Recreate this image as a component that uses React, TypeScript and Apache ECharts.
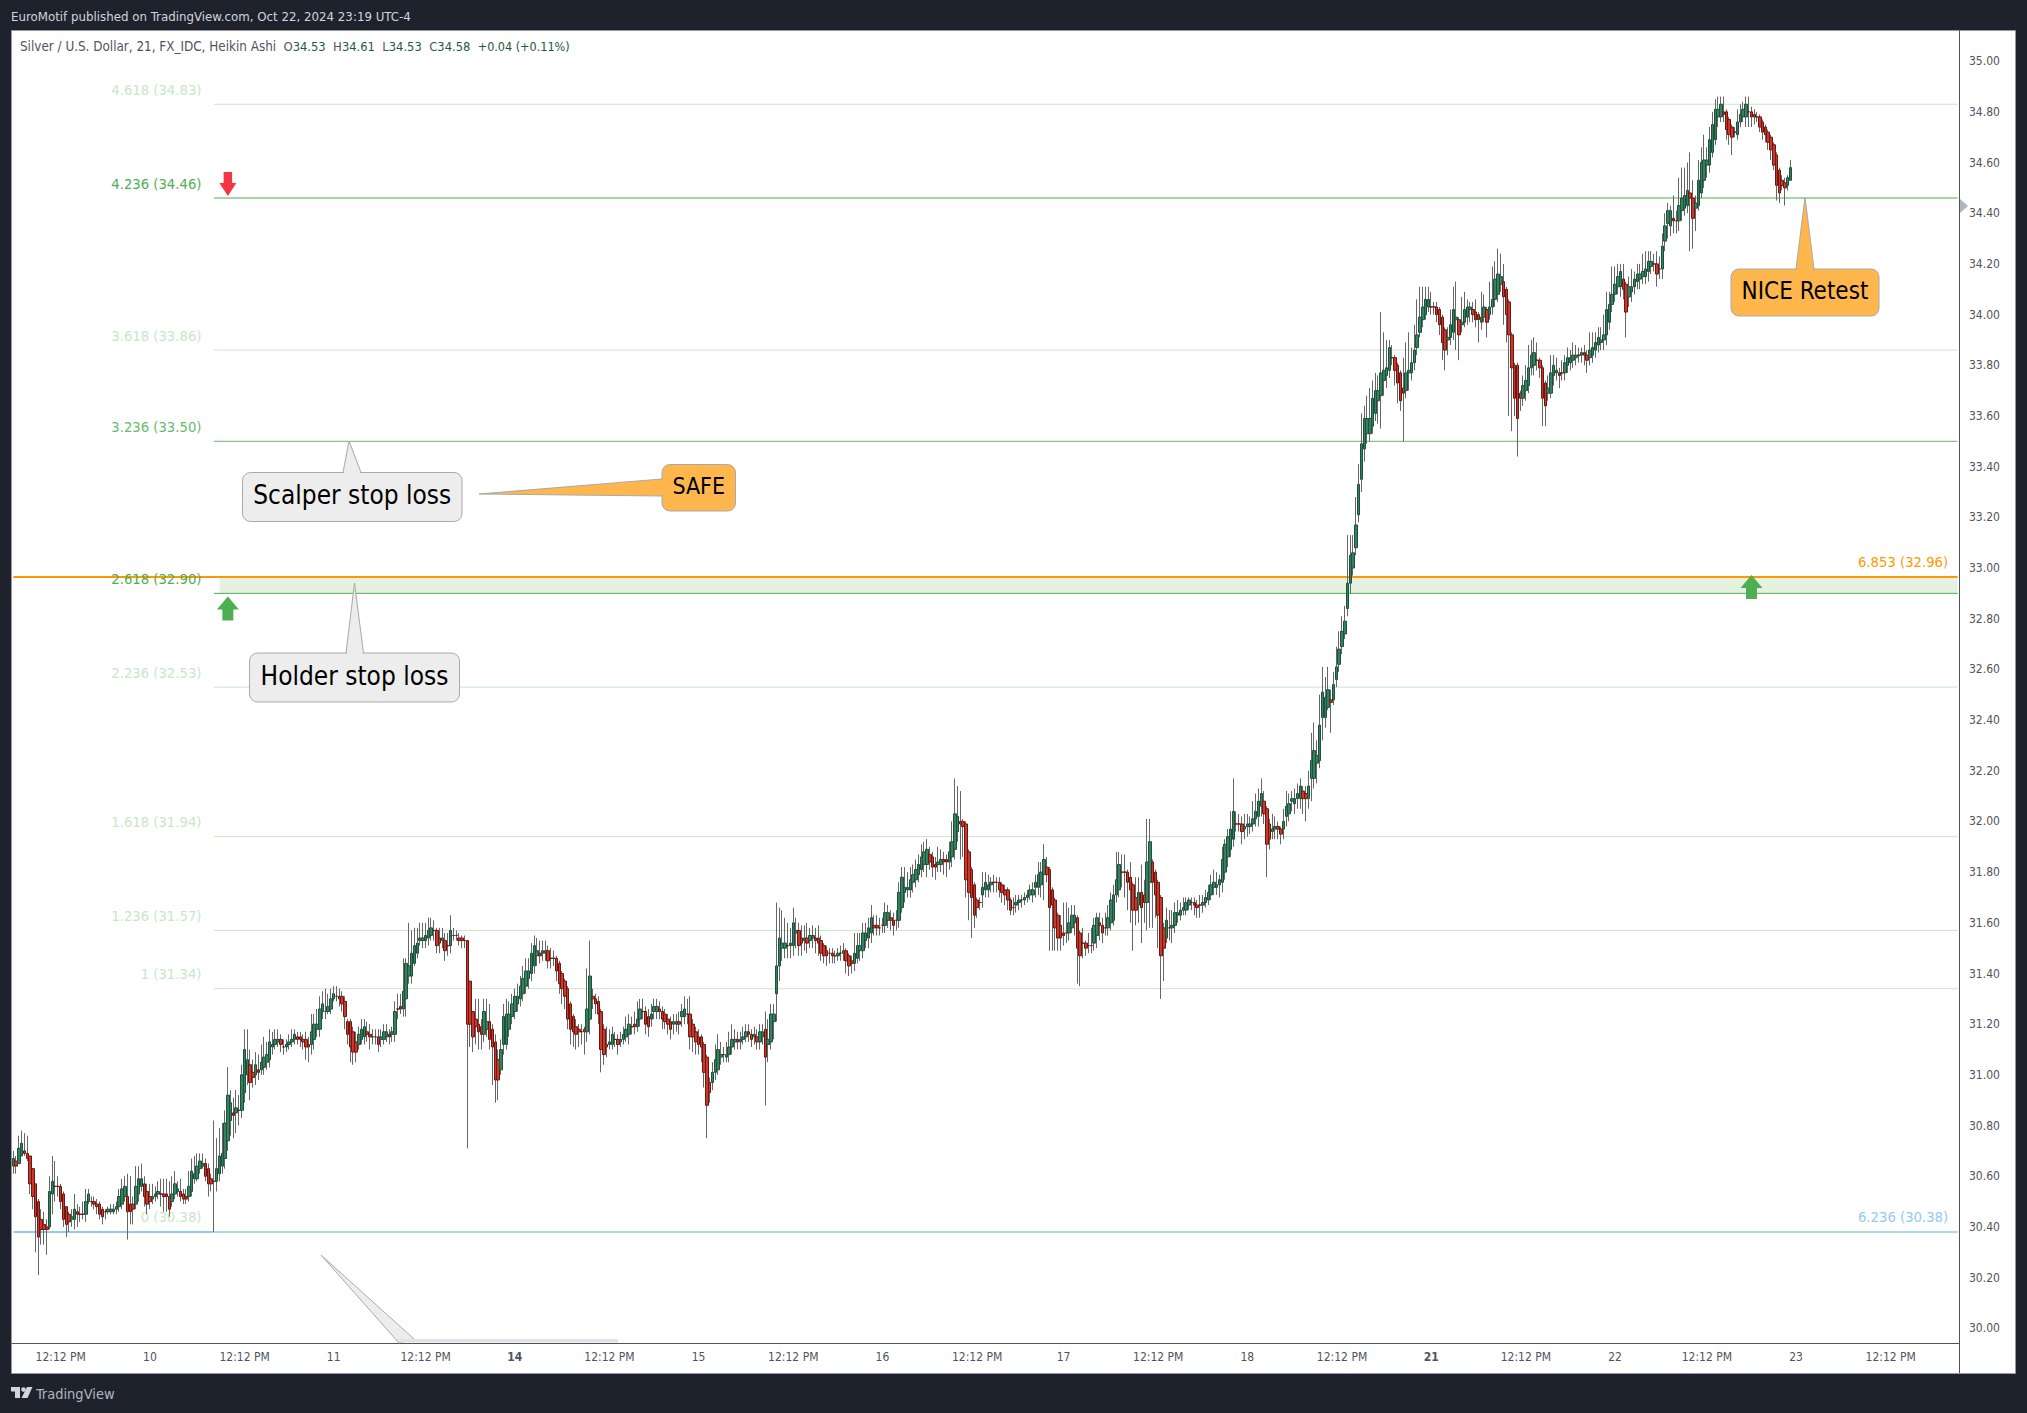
import { useEffect, useRef } from "react";
import * as echarts from "echarts";

// rows are [open, close, low, high] in cents, one list per session
const oct09 = [
  [3064,3067,3061,3070],[3066,3064,3061,3068],[3065,3071,3065,3076],[3068,3073,3068,3078],[3070,3069,3068,3077],
  [3069,3067,3066,3076],[3068,3057,3053,3068],[3063,3052,3047,3063],[3057,3044,3030,3057],[3050,3036,3021,3051],
  [3043,3039,3033,3047],[3041,3039,3033,3046],[3040,3039,3029,3043],[3040,3054,3039,3060],[3053,3058,3045,3068],
  [3056,3056,3050,3066],[3056,3056,3052,3060],[3056,3050,3047,3057],[3053,3043,3040,3054],[3048,3041,3036,3048],
  [3045,3042,3038,3046],[3043,3044,3040,3047],[3043,3047,3039,3053],[3046,3045,3040,3049],[3045,3045,3042,3048],
  [3045,3045,3043,3050],[3045,3050,3042,3055],[3050,3053,3049,3055],[3050,3050,3048,3052],[3050,3049,3047,3052],
  [3049,3048,3045,3051],[3049,3045,3043,3050],[3047,3044,3041,3048],[3046,3046,3043,3047],[3046,3047,3045,3048],
  [3046,3047,3045,3049],[3046,3047,3045,3049],[3047,3048,3045,3050],[3048,3052,3046,3055],[3049,3055,3047,3059],
  [3052,3056,3050,3060],[3052,3046,3035,3061],[3049,3046,3041,3060],[3049,3047,3041,3052],[3049,3056,3047,3064],
  [3053,3059,3050,3064],[3056,3059,3054,3065],[3057,3052,3048,3060],[3054,3049,3045,3057],[3052,3050,3047,3057],
];
const oct10 = [
  [3051,3052,3049,3057],[3052,3053,3050,3056],[3053,3054,3051,3058],[3053,3053,3048,3059],[3053,3052,3046,3059],
  [3053,3052,3046,3059],[3052,3047,3044,3058],[3050,3053,3048,3060],[3053,3057,3051,3062],[3054,3055,3052,3058],
  [3054,3052,3050,3059],[3053,3051,3049,3055],[3052,3051,3049,3055],[3052,3056,3050,3062],[3054,3062,3052,3067],
  [3059,3061,3057,3068],[3059,3064,3058,3069],[3063,3066,3061,3069],[3064,3065,3063,3069],[3065,3060,3058,3067],
  [3063,3057,3052,3065],[3059,3057,3054,3061],[3058,3058,3038,3082],[3058,3063,3054,3075],[3061,3068,3058,3079],
  [3064,3069,3061,3081],[3067,3081,3063,3086],[3074,3092,3070,3103],[3082,3089,3076,3094],[3085,3084,3075,3091],
  [3085,3087,3077,3094],[3086,3086,3080,3092],[3086,3100,3083,3104],[3093,3110,3089,3118],[3100,3106,3096,3118],
  [3104,3097,3090,3110],[3101,3099,3095,3106],[3100,3104,3096,3109],[3102,3101,3098,3108],[3102,3105,3100,3112],
  [3103,3107,3100,3115],[3105,3108,3102,3113],[3106,3113,3103,3118],[3111,3112,3108,3117],[3112,3114,3110,3118],
  [3113,3114,3111,3118],[3114,3112,3109,3116],[3111,3111,3108,3114],[3111,3112,3109,3114],[3112,3113,3110,3116],
  [3113,3114,3111,3118],[3114,3116,3112,3118],[3115,3114,3112,3117],[3115,3114,3111,3117],[3114,3113,3110,3116],
  [3114,3111,3106,3117],[3112,3111,3105,3115],[3112,3117,3108,3124],[3114,3120,3110,3124],[3118,3120,3115,3126],
  [3118,3126,3115,3131],[3125,3128,3122,3133],[3125,3125,3122,3134],[3125,3127,3124,3132],[3126,3130,3124,3134],
  [3130,3132,3129,3135],
];
const oct11 = [
  [3131,3131,3129,3135],[3131,3130,3127,3134],[3131,3128,3125,3133],[3129,3123,3118,3131],[3121,3116,3112,3122],
  [3121,3111,3105,3122],[3117,3109,3104,3119],[3113,3109,3105,3117],[3112,3116,3110,3119],[3114,3118,3112,3122],
  [3115,3119,3112,3122],[3117,3116,3113,3121],[3116,3115,3110,3120],[3115,3115,3112,3118],[3115,3115,3112,3118],
  [3115,3112,3109,3118],[3114,3115,3111,3118],[3114,3117,3112,3120],[3115,3117,3113,3120],[3116,3115,3112,3118],
  [3116,3117,3113,3119],[3116,3125,3113,3129],[3126,3126,3122,3132],[3127,3126,3124,3132],[3126,3133,3123,3146],
  [3130,3144,3123,3146],[3139,3143,3136,3160],[3139,3148,3136,3157],[3144,3151,3143,3158],[3148,3152,3146,3158],
  [3153,3154,3151,3160],[3153,3154,3150,3160],[3153,3155,3150,3160],[3154,3157,3151,3162],[3155,3158,3153,3162],
  [3157,3157,3153,3161],[3157,3151,3148,3158],[3154,3152,3148,3158],[3153,3154,3150,3158],[3153,3149,3145,3156],
  [3151,3151,3147,3156],[3151,3157,3148,3163],[3155,3155,3153,3158],[3155,3155,3153,3157],[3154,3153,3151,3156],
  [3154,3153,3150,3155],[3153,3153,3150,3155],[3153,3120,3071,3153],[3137,3120,3111,3137],[3125,3115,3109,3125],
  [3122,3119,3112,3130],[3120,3117,3110,3130],[3119,3116,3110,3122],[3116,3125,3113,3130],[3118,3121,3115,3130],
  [3121,3114,3110,3128],[3118,3111,3096,3120],[3113,3098,3089,3116],[3106,3098,3090,3110],[3102,3110,3100,3114],
  [3112,3123,3108,3128],[3112,3124,3110,3130],[3118,3124,3115,3129],[3123,3128,3120,3132],[3125,3131,3122,3134],
];
const oct14 = [
  [3128,3131,3125,3136],[3130,3135,3127,3139],[3132,3138,3129,3143],[3135,3141,3132,3146],[3138,3141,3134,3146],
  [3140,3148,3137,3152],[3143,3151,3140,3155],[3147,3149,3143,3154],[3148,3147,3144,3153],[3148,3149,3145,3153],
  [3148,3149,3145,3153],[3149,3145,3142,3151],[3146,3146,3142,3150],[3146,3146,3143,3149],[3146,3141,3137,3147],
  [3144,3136,3132,3145],[3140,3134,3128,3141],[3137,3131,3126,3138],[3134,3122,3118,3135],[3128,3118,3112,3129],
  [3123,3117,3111,3124],[3119,3116,3110,3122],[3118,3117,3111,3120],[3117,3117,3112,3120],[3118,3117,3108,3119],
  [3117,3126,3113,3142],[3122,3139,3116,3153],[3131,3130,3126,3134],[3130,3128,3124,3132],[3129,3124,3120,3131],
  [3125,3110,3101,3126],[3118,3108,3104,3120],[3112,3111,3107,3119],[3112,3113,3110,3118],[3112,3116,3110,3119],
  [3114,3114,3111,3117],[3114,3112,3108,3116],[3113,3114,3111,3117],[3114,3116,3112,3119],[3115,3118,3113,3123],
  [3116,3120,3112,3124],[3119,3119,3116,3123],[3120,3119,3116,3125],[3119,3122,3117,3129],[3122,3126,3119,3130],
  [3125,3125,3122,3130],[3125,3120,3116,3127],[3123,3119,3115,3126],[3122,3124,3119,3128],[3125,3127,3122,3130],
  [3125,3127,3122,3130],[3126,3125,3122,3129],[3125,3122,3118,3127],[3124,3121,3118,3126],[3122,3120,3116,3124],
  [3121,3118,3114,3123],[3120,3121,3116,3124],[3120,3121,3117,3124],[3121,3120,3116,3125],[3123,3125,3119,3128],
  [3123,3126,3120,3131],[3124,3124,3120,3130],[3124,3115,3110,3131],[3120,3115,3109,3122],[3117,3113,3108,3119],
  [3115,3112,3108,3118],
];
const oct15 = [
  [3115,3111,3105,3116],[3112,3101,3095,3113],[3107,3088,3075,3108],[3097,3093,3089,3099],[3097,3101,3094,3105],
  [3101,3106,3098,3112],[3102,3110,3100,3116],[3107,3108,3104,3113],[3108,3108,3105,3111],[3107,3108,3105,3113],
  [3108,3111,3105,3117],[3111,3114,3108,3120],[3113,3114,3110,3118],[3114,3113,3110,3117],[3113,3114,3110,3117],
  [3114,3115,3112,3119],[3115,3117,3113,3120],[3117,3116,3113,3120],[3116,3114,3111,3118],[3115,3116,3112,3119],
  [3115,3113,3110,3118],[3113,3117,3110,3120],[3115,3117,3112,3120],[3118,3107,3088,3125],[3112,3114,3105,3122],
  [3113,3124,3110,3128],[3121,3124,3114,3128],[3132,3143,3121,3168],[3143,3154,3137,3166],[3150,3152,3145,3165],
  [3150,3152,3146,3162],[3151,3151,3146,3160],[3151,3152,3146,3158],[3151,3160,3147,3166],[3156,3157,3150,3162],
  [3157,3151,3147,3160],[3154,3152,3147,3159],[3153,3154,3149,3159],[3154,3152,3148,3160],[3153,3155,3150,3158],
  [3154,3155,3150,3159],[3154,3153,3148,3158],[3154,3152,3147,3159],[3153,3148,3145,3155],[3151,3147,3144,3152],
  [3149,3147,3143,3151],[3148,3148,3144,3150],[3148,3147,3144,3150],[3147,3147,3144,3149],[3147,3148,3145,3150],
  [3148,3148,3145,3151],[3148,3149,3145,3152],[3149,3145,3140,3150],[3147,3143,3139,3148],[3145,3144,3140,3147],
  [3144,3148,3141,3156],[3146,3151,3144,3156],[3149,3151,3145,3156],[3149,3156,3146,3160],[3153,3156,3150,3160],
  [3154,3158,3150,3162],[3156,3162,3152,3167],[3159,3158,3155,3163],[3159,3158,3155,3163],[3158,3158,3155,3162],
  [3159,3159,3156,3162],
];
const oct16 = [
  [3159,3164,3156,3168],[3161,3164,3158,3167],[3162,3161,3157,3165],[3161,3159,3155,3164],[3161,3161,3157,3165],
  [3161,3172,3158,3176],[3166,3178,3164,3182],[3172,3174,3168,3182],[3173,3174,3170,3180],[3173,3177,3170,3182],
  [3176,3179,3172,3183],[3177,3181,3174,3185],[3179,3183,3176,3187],[3181,3186,3178,3191],[3183,3188,3180,3192],
  [3183,3189,3178,3193],[3187,3184,3181,3190],[3186,3182,3178,3188],[3183,3182,3177,3186],[3183,3184,3180,3190],
  [3183,3185,3180,3189],[3185,3184,3179,3188],[3185,3184,3178,3187],[3184,3188,3181,3192],[3186,3192,3182,3200],
  [3189,3203,3185,3217],[3196,3202,3192,3214],[3200,3199,3185,3212],[3200,3198,3186,3201],[3199,3177,3170,3200],
  [3188,3172,3161,3189],[3181,3170,3154,3182],[3175,3163,3158,3176],[3169,3166,3162,3170],[3168,3168,3165,3170],
  [3171,3174,3166,3180],[3173,3176,3170,3180],[3173,3175,3170,3179],[3175,3176,3172,3178],[3176,3176,3172,3179],
  [3176,3176,3172,3178],[3176,3173,3170,3178],[3175,3172,3168,3176],[3173,3171,3167,3175],[3173,3169,3165,3174],
  [3169,3165,3163,3170],[3166,3166,3163,3170],[3167,3168,3164,3171],[3168,3169,3165,3171],[3169,3169,3166,3171],
  [3169,3170,3167,3172],[3170,3171,3168,3173],[3171,3173,3169,3175],[3171,3173,3168,3176],[3174,3176,3170,3179],
  [3174,3179,3171,3184],[3175,3180,3170,3184],[3179,3185,3169,3191],[3182,3179,3176,3186],[3181,3166,3149,3182],
  [3173,3167,3149,3174],[3169,3158,3149,3170],[3163,3154,3149,3164],[3159,3154,3149,3163],[3156,3155,3151,3168],
];
const oct17 = [
  [3156,3156,3152,3168],[3156,3160,3153,3166],[3158,3163,3156,3167],[3160,3163,3155,3167],[3162,3150,3136,3163],
  [3156,3147,3135,3157],[3152,3152,3146,3158],[3152,3150,3147,3153],[3151,3151,3148,3156],[3151,3151,3148,3158],
  [3152,3159,3149,3162],[3155,3162,3150,3164],[3160,3159,3153,3164],[3159,3156,3152,3162],[3158,3158,3155,3164],
  [3158,3162,3155,3167],[3160,3169,3157,3172],[3161,3171,3159,3175],[3171,3177,3168,3188],[3173,3183,3170,3188],
  [3180,3180,3174,3187],[3180,3180,3170,3187],[3180,3176,3165,3181],[3178,3173,3160,3184],[3175,3165,3149,3176],
  [3170,3165,3159,3178],[3167,3172,3160,3178],[3172,3166,3152,3183],[3171,3168,3160,3177],[3168,3184,3157,3201],
  [3176,3192,3158,3201],[3184,3176,3158,3185],[3180,3171,3162,3181],[3176,3163,3150,3177],[3170,3147,3130,3171],
  [3158,3150,3137,3160],[3154,3161,3152,3166],[3158,3158,3153,3165],[3158,3159,3152,3165],[3159,3164,3156,3168],
  [3163,3164,3160,3169],[3163,3165,3161,3168],[3165,3166,3163,3170],[3165,3168,3163,3170],[3167,3169,3165,3170],
  [3168,3168,3165,3170],
];
const oct18 = [
  [3168,3167,3163,3170],[3167,3166,3162,3169],[3167,3167,3162,3171],[3167,3168,3164,3171],[3168,3170,3166,3173],
  [3169,3172,3167,3175],[3171,3175,3169,3179],[3174,3176,3171,3181],[3174,3175,3171,3180],[3175,3177,3170,3179],
  [3176,3185,3172,3190],[3180,3191,3177,3193],[3186,3194,3182,3197],[3189,3197,3186,3204],[3193,3204,3190,3217],
  [3199,3199,3196,3204],[3199,3199,3196,3203],[3199,3196,3191,3202],[3197,3198,3193,3203],[3198,3199,3194,3203],
  [3198,3199,3195,3202],[3199,3201,3196,3208],[3201,3204,3198,3211],[3202,3208,3198,3213],[3206,3211,3202,3217],
  [3208,3203,3199,3212],[3205,3191,3178,3206],[3199,3193,3189,3201],[3196,3197,3193,3203],[3197,3198,3193,3202],
  [3198,3197,3193,3200],[3197,3195,3191,3198],[3197,3200,3193,3205],[3202,3206,3198,3212],[3203,3207,3200,3211],
  [3208,3209,3204,3212],[3207,3209,3203,3213],[3209,3211,3205,3215],[3209,3214,3205,3217],[3212,3209,3203,3214],
  [3211,3209,3200,3214],[3209,3214,3205,3220],[3217,3224,3208,3235],[3217,3228,3213,3239],[3223,3226,3215,3232],
  [3224,3238,3221,3250],[3241,3251,3232,3261],[3241,3249,3237,3257],[3245,3252,3244,3261],[3248,3247,3235,3252],
  [3248,3254,3246,3259],[3256,3261,3253,3269],[3262,3268,3259,3275],[3269,3275,3266,3281],[3274,3279,3272,3285],
  [3284,3294,3281,3313],[3294,3305,3290,3313],[3300,3306,3297,3313],[3308,3317,3305,3328],[3321,3333,3318,3341],
  [3335,3349,3330,3361],[3347,3359,3342,3364],[3353,3359,3349,3368],[3353,3359,3350,3371],[3356,3367,3353,3374],
  [3361,3370,3358,3377],
];
const oct21 = [
  [3366,3370,3357,3376],[3368,3377,3355,3401],[3374,3378,3368,3393],[3376,3379,3371,3390],[3378,3387,3375,3390],
  [3383,3383,3380,3388],[3383,3378,3372,3384],[3380,3373,3365,3381],[3377,3366,3362,3378],[3371,3369,3350,3383],
  [3370,3377,3367,3389],[3377,3378,3370,3393],[3377,3381,3374,3387],[3381,3386,3378,3396],[3387,3392,3384,3406],
  [3393,3399,3391,3411],[3398,3403,3395,3411],[3400,3406,3398,3411],[3403,3406,3401,3411],[3403,3403,3400,3409],
  [3403,3403,3400,3405],[3403,3400,3397,3405],[3402,3396,3392,3403],[3399,3389,3382,3400],[3394,3386,3378,3395],
  [3390,3391,3384,3395],[3391,3396,3388,3402],[3393,3402,3390,3411],[3398,3399,3386,3413],[3398,3392,3382,3399],
  [3396,3397,3393,3407],[3397,3402,3395,3409],[3399,3403,3396,3406],[3402,3403,3397,3405],
  [3402,3400,3397,3405],[3401,3398,3395,3406],[3400,3398,3389,3401],[3397,3399,3394,3409],[3399,3403,3397,3408],
  [3402,3397,3391,3403],[3400,3403,3398,3413],[3403,3406,3400,3419],[3406,3414,3403,3421],
  [3408,3416,3405,3426],[3412,3415,3409,3424],[3413,3407,3396,3420],[3410,3400,3389,3411],[3405,3392,3360,3406],
  [3392,3379,3354,3393],[3380,3367,3360,3381],[3380,3359,3344,3381],[3369,3367,3362,3370],[3367,3372,3364,3376],
  [3370,3374,3366,3380],[3372,3379,3369,3388],[3379,3384,3376,3390],[3380,3385,3376,3391],[3382,3382,3378,3389],
  [3382,3379,3375,3383],[3379,3367,3356,3380],[3373,3364,3356,3374],[3369,3371,3366,3376],[3369,3377,3367,3384],
  [3376,3380,3372,3384],
];
const oct22 = [
  [3377,3378,3374,3383],[3377,3376,3371,3379],[3377,3377,3374,3382],[3377,3381,3374,3384],[3380,3383,3377,3387],
  [3381,3383,3378,3386],[3382,3384,3379,3389],[3383,3384,3380,3388],[3384,3384,3381,3387],[3384,3385,3381,3387],
  [3385,3384,3380,3388],[3384,3382,3377,3386],[3383,3386,3380,3393],[3384,3387,3381,3393],[3386,3389,3383,3393],
  [3388,3391,3385,3395],[3389,3390,3386,3395],[3390,3392,3386,3400],[3392,3402,3388,3409],[3397,3404,3394,3409],
  [3404,3408,3401,3419],[3408,3412,3405,3419],[3411,3415,3408,3420],[3411,3417,3407,3420],[3414,3410,3406,3420],
  [3412,3401,3391,3413],[3407,3411,3403,3415],[3409,3411,3405,3418],[3411,3414,3408,3417],[3413,3416,3410,3420],
  [3414,3416,3410,3420],[3415,3417,3412,3424],[3415,3418,3412,3425],[3417,3421,3413,3425],[3419,3421,3416,3425],
  [3420,3420,3417,3424],[3420,3416,3411,3425],[3418,3418,3414,3423],[3418,3427,3414,3432],[3429,3435,3425,3440],
  [3436,3441,3430,3444],[3435,3441,3431,3443],[3438,3437,3432,3447],[3437,3437,3432,3441],[3437,3443,3433,3454],
  [3441,3446,3437,3458],[3442,3447,3439,3458],[3443,3449,3440,3460],[3448,3446,3425,3464],[3446,3438,3426,3453],
  [3442,3444,3433,3447],[3443,3453,3441,3461],[3448,3460,3446,3466],[3453,3461,3450,3471],[3459,3461,3454,3466],
  [3459,3469,3456,3474],[3464,3475,3462,3480],[3469,3481,3467,3485],[3478,3481,3474,3486],[3478,3483,3476,3486],
  [3480,3479,3476,3486],[3480,3473,3469,3481],[3477,3471,3467,3478],[3474,3470,3463,3475],[3472,3472,3470,3474],
  [3471,3476,3469,3481],[3476,3479,3474,3483],[3478,3481,3476,3484],[3478,3483,3474,3486],[3480,3480,3474,3486],
  [3480,3478,3474,3482],[3479,3478,3475,3481],[3478,3478,3476,3480],[3478,3474,3472,3479],[3476,3472,3469,3477],
  [3474,3471,3468,3475],[3472,3468,3465,3473],[3470,3465,3461,3471],[3467,3459,3457,3468],[3463,3451,3445,3464],
  [3457,3448,3444,3458],[3453,3451,3449,3455],[3452,3450,3443,3454],[3451,3454,3449,3455],[3453,3458,3453,3461],
];

const candles = [...oct09, ...oct10, ...oct11, ...oct14, ...oct15, ...oct16, ...oct17, ...oct18, ...oct21, ...oct22];
const slotCount = 699;

const timeTickIndexes = [17, 49, 83, 115, 148, 180, 214, 246, 280, 312, 346, 377, 411, 443, 477, 509, 543, 575, 608, 640, 674];
const timeTickLabels = ["12:12 PM", "10", "12:12 PM", "11", "12:12 PM", "14", "12:12 PM", "15", "12:12 PM", "16", "12:12 PM", "17", "12:12 PM", "18", "12:12 PM", "21", "12:12 PM", "22", "12:12 PM", "23", "12:12 PM"];
const boldTickLabels = ["14", "21"];
const priceTicks = [30, 30.2, 30.4, 30.6, 30.8, 31, 31.2, 31.4, 31.6, 31.8, 32, 32.2, 32.4, 32.6, 32.8, 33, 33.2, 33.4, 33.6, 33.8, 34, 34.2, 34.4, 34.6, 34.8, 35];

const fibNames = ["4.618 (34.83)", "4.236 (34.46)", "3.618 (33.86)", "3.236 (33.50)", "2.618 (32.90)", "2.236 (32.53)", "1.618 (31.94)", "1.236 (31.57)", "1 (31.34)", "0 (30.38)"];
const fibPrices = [34.83, 34.46, 33.86, 33.5, 32.9, 32.53, 31.94, 31.57, 31.34, 30.38];
const fibColors = ["#c8e6c9", "#4caf50", "#c8e6c9", "#66bb6a", "#4caf50", "#c8e6c9", "#c8e6c9", "#c8e6c9", "#c8e6c9", "#c8e6c9"];
const fibStartSlot = 72;
const extNames = ["6.853 (32.96)", "6.236 (30.38)"];
const extPrices = [32.965, 30.38];
const extColors = ["#ff9800", "#90caf9"];
const bandPrices = [32.965, 32.9];

const upArrow = "path://M8,0 L16,13 L12,13 L12,24 L4,24 L4,13 L0,13 Z";
const downArrow = "path://M4,0 L12,0 L12,11 L16,11 L8,24 L0,11 L4,11 Z";
const arrowSlots = [77, 77, 624];
const arrowPrices = [34.515, 32.84, 32.925];
const arrowSymbols = [downArrow, upArrow, upArrow];
const arrowColors = ["#f23645", "#4caf50", "#4caf50"];

const FONT = '"DejaVu Sans Condensed", "DejaVu Sans", sans-serif';
const DARK = "#1e222d";

function callout(text: string, box: number[], tail: number[][], fill: string, stroke: string, fontSize: number) {
  const [x0, y0, x1, y1] = box;
  const [a, , b] = tail;
  const upright = b[0] === a[0];
  return [
    { type: "polygon", z: 10, shape: { points: tail }, style: { fill, stroke, lineWidth: 1 } },
    { type: "rect", z: 11, shape: { x: x0, y: y0, width: x1 - x0, height: y1 - y0, r: 8 }, style: { fill, stroke, lineWidth: 1 } },
    // hides the box border where the tail joins it
    { type: "line", z: 12, shape: { x1: a[0] + (upright ? 0 : 1), y1: a[1] + (upright ? 1 : 0), x2: b[0] - (upright ? 0 : 1), y2: b[1] - (upright ? 1 : 0) }, style: { stroke: fill, lineWidth: 2 } },
    { type: "text", z: 13, style: { text, x: (x0 + x1) / 2, y: (y0 + y1) / 2 - 2, align: "center", verticalAlign: "middle", fontFamily: FONT, fontSize, fill: "#000000" } },
  ];
}

function buildGraphics() {
  const grey = "#ededed";
  const orange = "#ffb74d";
  const edge = "#a9a9a9";
  return [
    { type: "rect", z: -1, shape: { x: 11.5, y: 30.5, width: 2004, height: 1343 }, style: { fill: "#ffffff", stroke: "#9598a1", lineWidth: 1 } },
    { type: "line", z: 1, shape: { x1: 1959.5, y1: 1343, x2: 1959.5, y2: 1373 }, style: { stroke: "#50535e", lineWidth: 1 } },
    { type: "text", z: 5, style: { text: "EuroMotif published on TradingView.com, Oct 22, 2024 23:19 UTC-4", x: 11, y: 16, verticalAlign: "middle", fontFamily: FONT, fontSize: 13.15, fill: "#d1d4dc" } },
    {
      type: "text", z: 5,
      style: {
        x: 20, y: 46, verticalAlign: "middle", fontFamily: FONT, fontSize: 13, fill: "#50535e",
        text: "{n|Silver / U.S. Dollar, 21, FX_IDC, Heikin Ashi}  O{v|34.53}  H{v|34.61}  L{v|34.53}  C{v|34.58}  {c|+0.04 (+0.11%)}",
        rich: {
          n: { fill: "#50535e", fontFamily: FONT, fontSize: 13.35 },
          v: { fill: "#1e5a3e", fontFamily: FONT, fontSize: 12.8 },
          c: { fill: "#1e5a3e", fontFamily: FONT, fontSize: 12.5 },
        },
      },
    },
    { type: "polygon", z: 5, shape: { points: [[1960, 199], [1968, 206], [1960, 213]] }, style: { fill: "#b2b5be" } },
    ...callout("NICE Retest", [1731, 269, 1879, 316], [[1796, 269], [1805, 197], [1814, 269]], orange, edge, 24),
    ...callout("Scalper stop loss", [242.5, 472.5, 462, 521.5], [[343, 472.5], [349, 441], [361, 472.5]], grey, edge, 26),
    ...callout("Holder stop loss", [249.5, 653, 459.5, 702], [[346, 653], [354.5, 583], [363.5, 653]], grey, edge, 26),
    ...callout("SAFE", [662, 464.5, 735.5, 511], [[662, 479], [479, 494], [662, 496]], orange, edge, 23),
    { type: "polygon", z: 10, shape: { points: [[321, 1255], [414, 1339], [399, 1343]] }, style: { fill: grey, stroke: edge, lineWidth: 1 } },
    { type: "rect", z: 10, shape: { x: 399, y: 1339, width: 219, height: 3.5 }, style: { fill: "#e3e3e3" } },
    // TradingView mark
    { type: "polygon", z: 5, shape: { points: [[11, 1387], [20, 1387], [20, 1398], [15, 1398], [15, 1391.5], [11, 1391.5]] }, style: { fill: "#d1d4dc" } },
    { type: "circle", z: 5, shape: { cx: 23.5, cy: 1389.5, r: 2.3 }, style: { fill: "#d1d4dc" } },
    { type: "polygon", z: 5, shape: { points: [[27, 1387], [32.5, 1387], [27.5, 1398], [21.5, 1398]] }, style: { fill: "#d1d4dc" } },
    { type: "text", z: 5, style: { text: "TradingView", x: 36, y: 1394, verticalAlign: "middle", fontFamily: FONT, fontSize: 14.5, fill: "#b2b5be" } },
  ];
}

export default function App() {
  const containerRef = useRef<HTMLDivElement>(null);

  useEffect(() => {
    if (!containerRef.current) return;
    const chart = echarts.init(containerRef.current, undefined, { renderer: "svg" });
    const slots = Array.from({ length: slotCount }, (_, i) => String(i));
    const lastSlot = slotCount - 1;

    const levelLine = (price: number, start: number, color: string, width: number) => ({
      type: "line",
      z: 1,
      silent: true,
      symbol: "none",
      lineStyle: { color, width },
      data: [[start, price], [lastSlot, price]],
    });

    chart.setOption({
      animation: false,
      backgroundColor: DARK,
      textStyle: { fontFamily: FONT },
      grid: { left: 12, top: 30, width: 1947, height: 1313 },
      graphic: { elements: buildGraphics() },
      xAxis: {
        type: "category",
        data: slots,
        axisLine: { lineStyle: { color: "#50535e" } },
        axisTick: { show: false },
        splitLine: { show: false },
        axisLabel: {
          interval: (i: number) => timeTickIndexes.includes(i),
          hideOverlap: false,
          margin: 8,
          color: "#50535e",
          fontFamily: FONT,
          fontSize: 12,
          formatter: (_v: string, i: number) => {
            const label = timeTickLabels[timeTickIndexes.indexOf(i)] ?? "";
            return boldTickLabels.includes(label) ? `{b|${label}}` : label;
          },
          rich: { b: { fontWeight: "bold", color: "#50535e", fontFamily: FONT, fontSize: 12 } },
        },
      },
      yAxis: {
        type: "value",
        position: "right",
        min: 29.942,
        max: 35.123,
        scale: true,
        axisLine: { show: true, lineStyle: { color: "#50535e" } },
        axisTick: { show: false },
        splitLine: { show: false },
        axisLabel: {
          customValues: priceTicks,
          margin: 10,
          color: "#50535e",
          fontFamily: FONT,
          fontSize: 12,
          formatter: (v: number) => v.toFixed(2),
        },
      },
      series: [
        levelLine(extPrices[1], 0, extColors[1], 2),
        ...fibPrices.map((p, i) => levelLine(p, fibStartSlot, fibColors[i], 1)),
        levelLine(extPrices[0], 0, extColors[0], 2),
        {
          type: "line",
          z: 0,
          silent: true,
          symbol: "none",
          data: [],
          markArea: {
            silent: true,
            itemStyle: { color: "#e6f1e0", opacity: 1 },
            data: [[{ xAxis: fibStartSlot + 2, yAxis: bandPrices[0] }, { xAxis: lastSlot, yAxis: bandPrices[1] }]],
          },
        },
        {
          type: "candlestick",
          z: 3,
          large: false,
          barWidth: 1,
          silent: true,
          itemStyle: { color: "#666666", color0: "#666666", borderColor: "#666666", borderColor0: "#666666", borderColorDoji: "#666666", borderWidth: 1 },
          data: candles.map(([o, c, l, h]) => [o / 100, c / 100, l / 100, h / 100]),
        },
        {
          type: "candlestick",
          z: 4,
          large: false,
          barWidth: 3,
          silent: true,
          itemStyle: { color: "#37805f", color0: "#c9382a", borderColor: "#1c523b", borderColor0: "#6e1710", borderColorDoji: "#6e1710", borderWidth: 1 },
          data: candles.map(([o, c]) => [o / 100, c / 100, Math.min(o, c) / 100, Math.max(o, c) / 100]),
        },
        {
          type: "scatter",
          z: 2,
          silent: true,
          symbolSize: 1,
          itemStyle: { color: "transparent", opacity: 1 },
          data: fibPrices.map((p, i) => ({
            value: [fibStartSlot, p],
            label: { show: true, position: "left", distance: 12, offset: [0, -15], formatter: fibNames[i], color: fibColors[i], fontFamily: FONT, fontSize: 14.7 },
          })),
        },
        {
          type: "scatter",
          z: 2,
          silent: true,
          symbolSize: 1,
          itemStyle: { color: "transparent", opacity: 1 },
          data: extPrices.map((p, i) => ({
            value: [lastSlot, p],
            label: { show: true, position: "left", distance: 9, offset: [0, -15], formatter: extNames[i], color: extColors[i], fontFamily: FONT, fontSize: 14.7 },
          })),
        },
        {
          type: "scatter",
          z: 6,
          silent: true,
          data: arrowSlots.map((s, i) => ({
            value: [s, arrowPrices[i]],
            symbol: arrowSymbols[i],
            symbolSize: i === 0 ? [17, 24] : [22, 24],
            itemStyle: { color: arrowColors[i], opacity: 1 },
          })),
        },
      ],
    });

    return () => chart.dispose();
  }, []);

  return <div ref={containerRef} style={{ position: "absolute", left: 0, top: 0, width: 2027, height: 1413 }} />;
}
